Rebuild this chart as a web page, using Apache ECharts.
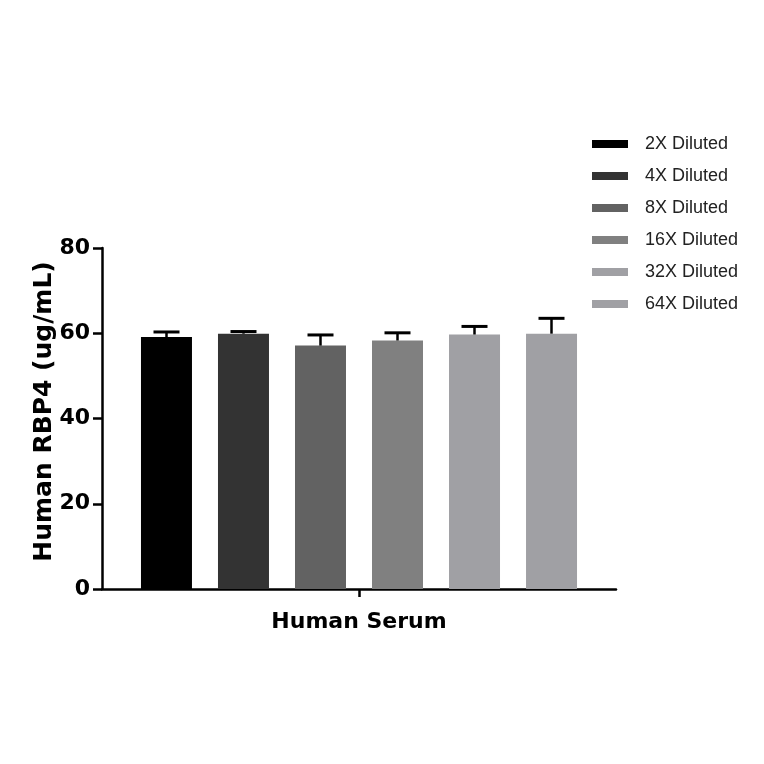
<!DOCTYPE html>
<html>
<head>
<meta charset="utf-8">
<script src="https://cdn.jsdelivr.net/npm/echarts@6/dist/echarts.min.js"></script>
<style>
  html, body { margin: 0; padding: 0; background: #fff; }
  #chart { width: 764px; height: 764px; }
</style>
</head>
<body>
<div id="chart"></div>
<script>
var categories = ['Human Serum'];
var seriesNames = ['2X Diluted', '4X Diluted', '8X Diluted', '16X Diluted', '32X Diluted', '64X Diluted'];
var means = [59.1, 59.9, 57.1, 58.3, 59.7, 59.9];
var errors = [1.2, 0.5, 2.5, 1.8, 1.9, 3.6];
var colors = ['#000000', '#333333', '#626262', '#808080', '#a0a0a4', '#a0a0a4'];
var yTicks = [0, 20, 40, 60, 80];

var barW = 51;      // px
var barGapPx = 26;  // px between bars of the group

var bars = seriesNames.map(function (name, i) {
    return {
        name: name,
        type: 'bar',
        barWidth: barW,
        barGap: (barGapPx / barW * 100).toFixed(1) + '%',
        itemStyle: { color: colors[i] },
        data: [means[i]],
        z: 2
    };
});

// error bars, placed over the matching bar of the group
var errData = means.map(function (m, i) { return [0, m, errors[i], i]; });
var errSeries = {
    type: 'custom',
    data: errData,
    encode: { x: 0, y: 1 },
    z: 3,
    silent: true,
    renderItem: function (params, api) {
        var i = api.value(3);
        var n = seriesNames.length;
        var off = (i - (n - 1) / 2) * (barW + barGapPx);
        var base = api.coord([api.value(0), api.value(1)]);
        var top = api.coord([api.value(0), api.value(1) + api.value(2)]);
        var x = base[0] + off;
        return {
            type: 'group',
            children: [
                { type: 'line', shape: { x1: x, y1: base[1], x2: x, y2: top[1] }, style: { stroke: '#000', lineWidth: 2.5 } },
                { type: 'line', shape: { x1: x - 13, y1: top[1], x2: x + 13, y2: top[1] }, style: { stroke: '#000', lineWidth: 3 } }
            ]
        };
    }
};

var boldFont = 'DejaVu Sans';

var chart = echarts.init(document.getElementById('chart'));
chart.setOption({
    animation: false,
    backgroundColor: '#fff',
    grid: { left: 102, right: 148, top: 248, bottom: 175 },
    legend: {
        orient: 'vertical',
        left: 587,
        top: 130,
        itemWidth: 36,
        itemHeight: 8,
        itemGap: 14,
        icon: 'rect',
        data: seriesNames,
        textStyle: { fontFamily: 'Liberation Sans', fontSize: 18, color: '#222', padding: [0, 0, 0, 12] }
    },
    xAxis: {
        type: 'category',
        data: categories,
        axisLine: { lineStyle: { color: '#000', width: 2.5 } },
        axisTick: { show: true, interval: 0, alignWithLabel: true, length: 8, lineStyle: { color: '#000', width: 2.5 } },
        axisLabel: { margin: 22, fontFamily: boldFont, fontWeight: 'bold', fontSize: 22, color: '#000' }
    },
    yAxis: {
        type: 'value',
        min: yTicks[0],
        max: yTicks[yTicks.length - 1],
        interval: 20,
        name: 'Human RBP4 (ug/mL)',
        nameLocation: 'middle',
        nameGap: 45,
        nameMoveOverlap: false,
        nameTextStyle: { fontFamily: boldFont, fontWeight: 'bold', fontSize: 25, color: '#000', padding: [0, 0, 0, 14] },
        axisLine: { show: true, lineStyle: { color: '#000', width: 2.5 } },
        axisTick: { show: true, length: 9, lineStyle: { color: '#000', width: 2.5 } },
        axisLabel: { margin: 12, fontFamily: boldFont, fontWeight: 'bold', fontSize: 22, color: '#000' },
        splitLine: { show: false }
    },
    series: bars.concat([errSeries])
});
</script>
</body>
</html>
